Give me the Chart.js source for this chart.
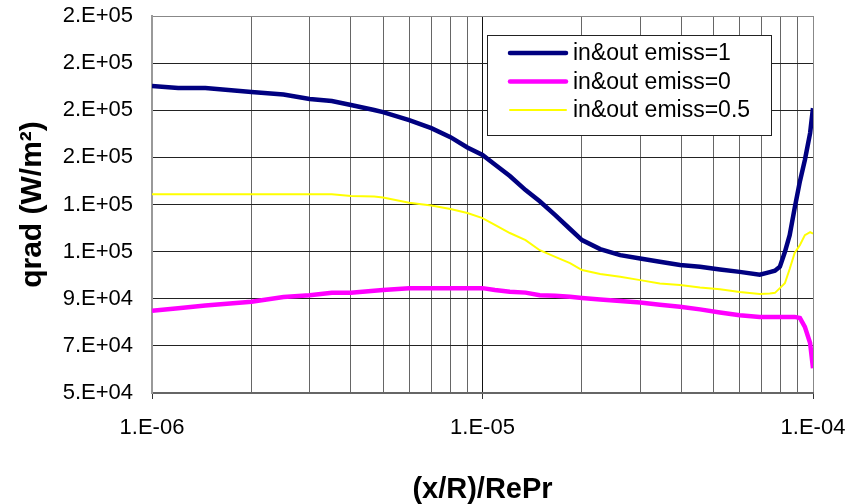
<!DOCTYPE html>
<html>
<head>
<meta charset="utf-8">
<script src="https://cdn.jsdelivr.net/npm/chart.js@4.4.1/dist/chart.umd.min.js"></script>
<style>
  html, body { margin: 0; background: #fff; }
</style>
</head>
<body>
<canvas id="chart" width="853" height="504"></canvas>
<script>
// (x/R)/RePr positions shared by the three curves
const xValues = [1.0e-6, 1.2e-6, 1.45e-6, 2.0e-6, 2.5e-6, 3.0e-6, 3.5e-6, 4.0e-6, 4.7e-6, 5.0e-6,
    6.0e-6, 7.0e-6, 8.0e-6, 9.0e-6, 1.0e-5, 1.09e-5, 1.21e-5, 1.35e-5, 1.49e-5, 1.66e-5,
    1.84e-5, 2.0e-5, 2.27e-5, 2.61e-5, 3.0e-5, 3.44e-5, 3.96e-5, 4.55e-5, 5.23e-5, 6.0e-5,
    6.9e-5, 7.4e-5, 7.67e-5, 7.94e-5, 8.22e-5, 8.5e-5, 8.8e-5, 9.13e-5, 9.45e-5, 9.8e-5, 1.0e-4]

const emiss1 = [180300, 179400, 179400, 177700, 176700, 174800, 173900, 172200, 170100, 169200,
    165800, 162400, 158600, 154200, 151000, 147000, 142100, 136100, 131400, 125500,
    119600, 114900, 111100, 108500, 107100, 105700, 104300, 103600, 102400, 101400,
    100200, 101300, 101900, 103600, 109800, 117000, 128500, 139900, 148900, 160300, 170900]

const emiss0 = [84900, 86000, 87100, 88700, 90700, 91500, 92500, 92500, 93400, 93700,
    94500, 94500, 94500, 94500, 94500, 93700, 93000, 92600, 91500, 91300,
    90800, 90300, 89700, 89000, 88400, 87500, 86600, 85500, 84200, 83000,
    82300, 82300, 82300, 82300, 82300, 82300, 82300, 81800, 78100, 71200, 60500]

const emiss05 = [134400, 134400, 134400, 134400, 134400, 134400, 134400, 133600, 133400, 133000,
    130700, 129600, 128100, 126400, 124200, 121300, 117900, 114900, 110600, 107800,
    105100, 102200, 100500, 99300, 97900, 96500, 95800, 94800, 94000, 92900,
    92000, 92200, 92500, 94500, 96600, 102600, 109400, 112800, 117000, 118300, 117600]

const seriesLabels = ['in&out emiss=1', 'in&out emiss=0', 'in&out emiss=0.5']
const xDecades = [1e-6, 1e-5, 1e-4]
const yMin = 50000
const yMax = 210000
const yStep = 20000

const FONT = '"Liberation Sans", Arial, sans-serif'

function sci(v) {
    const [m, e] = v.toExponential(0).split('e')
    const n = parseInt(e)
    return m + '.E' + (n < 0 ? '-' : '+') + String(Math.abs(n)).padStart(2, '0')
}

function isDecade(v) {
    return xDecades.some(d => Math.abs(v / d - 1) < 1e-6)
}

function points(ys) {
    return xValues.map((x, i) => ({ x: x, y: ys[i] }))
}

const boxLegend = {
    id: 'boxLegend',
    afterDraw(chart, args, opts) {
        const ctx = chart.ctx
        ctx.save()
        ctx.fillStyle = '#fff'
        ctx.fillRect(opts.x, opts.y, opts.w, opts.h)
        ctx.strokeStyle = '#222'
        ctx.lineWidth = 1
        ctx.strokeRect(opts.x + 0.5, opts.y + 0.5, opts.w, opts.h)
        ctx.font = '23px ' + FONT
        ctx.textBaseline = 'middle'
        ctx.lineCap = 'round'
        chart.data.datasets.forEach((ds, i) => {
            const y = opts.y + opts.firstRow + i * opts.rowGap
            ctx.strokeStyle = ds.borderColor
            ctx.lineWidth = ds.borderWidth
            ctx.beginPath()
            ctx.moveTo(opts.x + 23, y)
            ctx.lineTo(opts.x + 79, y)
            ctx.stroke()
            ctx.fillStyle = '#000'
            ctx.fillText(ds.label, opts.x + 86, y + 1)
        })
        ctx.restore()
    }
}

new Chart(document.getElementById('chart'), {
    type: 'line',
    data: {
        datasets: [
            { label: seriesLabels[0], data: points(emiss1), borderColor: '#000080', borderWidth: 4.5 },
            { label: seriesLabels[1], data: points(emiss0), borderColor: '#ff00ff', borderWidth: 4.5 },
            { label: seriesLabels[2], data: points(emiss05), borderColor: '#ffff00', borderWidth: 2 }
        ]
    },
    options: {
        responsive: false,
        animation: false,
        devicePixelRatio: 1,
        layout: { padding: 0 },
        elements: { point: { radius: 0 }, line: { tension: 0 } },
        plugins: {
            legend: { display: false },
            tooltip: { enabled: false },
            boxLegend: { x: 487, y: 35, w: 284, h: 100, firstRow: 18, rowGap: 28.5 }
        },
        scales: {
            x: {
                type: 'logarithmic',
                min: 1e-6,
                max: 1e-4,
                afterBuildTicks(scale) {
                    // keep only 1..9 per decade
                    scale.ticks = scale.ticks.filter(t => {
                        const m = t.value / Math.pow(10, Math.floor(Math.log10(t.value) + 1e-9))
                        return Math.abs(m - Math.round(m)) < 1e-6
                    })
                },
                afterFit(scale) {
                    scale.height = 111
                    scale.paddingLeft = 0
                    scale.paddingRight = 40
                },
                border: { color: '#666', width: 2 },
                grid: {
                    color: c => c.tick && isDecade(c.tick.value) ? (c.index === 0 ? '#999' : c.tick.value >= 1e-4 ? '#888' : '#111') : '#666',
                    tickColor: c => c.tick && isDecade(c.tick.value) ? '#333' : 'rgba(0,0,0,0)',
                    tickLength: 6,
                    lineWidth: 1
                },
                ticks: {
                    autoSkip: false,
                    maxRotation: 0,
                    padding: 16,
                    color: '#000',
                    font: { family: FONT, size: 22 },
                    callback: v => isDecade(v) ? sci(v) : ''
                },
                title: {
                    display: true,
                    text: '(x/R)/RePr',
                    color: '#000',
                    font: { family: FONT, size: 29, weight: 'bold', lineHeight: 1.0 },
                    padding: { top: 0, bottom: 0 }
                }
            },
            y: {
                min: yMin,
                max: yMax,
                afterFit(scale) {
                    scale.width = 152
                    scale.paddingTop = 16
                    scale.paddingBottom = 0
                },
                border: { color: '#999', width: 2 },
                grid: {
                    color: c => c.tick && c.tick.value >= yMax ? '#888' : '#222',
                    drawTicks: false,
                    lineWidth: 1
                },
                ticks: {
                    stepSize: yStep,
                    padding: 19,
                    color: '#000',
                    font: { family: FONT, size: 22 },
                    callback: v => sci(v)
                },
                title: {
                    display: true,
                    text: 'qrad (W/m²)',
                    color: '#000',
                    font: { family: FONT, size: 30, weight: 'bold', lineHeight: 1.2 },
                    padding: { top: 15, bottom: 0 }
                }
            }
        }
    },
    plugins: [boxLegend]
})
</script>
</body>
</html>
